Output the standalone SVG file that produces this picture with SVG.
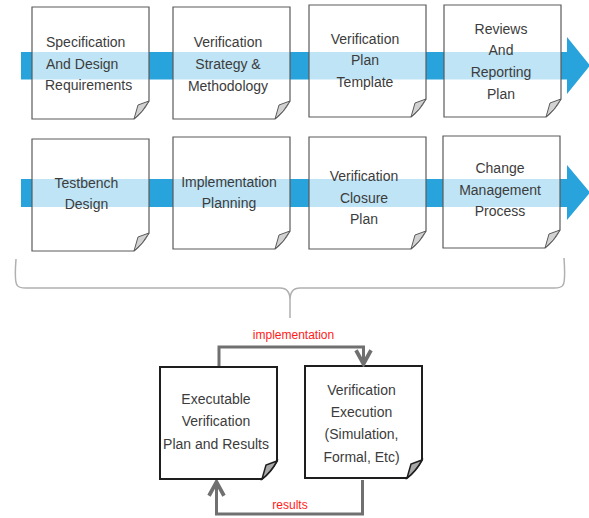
<svg xmlns="http://www.w3.org/2000/svg" xmlns:xlink="http://www.w3.org/1999/xlink" width="589" height="518" viewBox="0 0 589 518">
<style>
.band{fill:#29a3dc}
.card{fill:#ffffff;fill-opacity:0.7;stroke:#5a5a5a;stroke-width:1.2}
.fold{fill:#d2d2d2;stroke:#5a5a5a;stroke-width:1}
.card2{fill:#ffffff;stroke:#1e1e1e;stroke-width:2}
.fold2{fill:#a8a8a8;stroke:#1e1e1e;stroke-width:1.5}
.t{font-family:"Liberation Sans",Arial,sans-serif;font-size:14px;fill:#3c3c3c;text-anchor:middle}
.tl{text-anchor:start}
.red{font-family:"Liberation Sans",Arial,sans-serif;font-size:12px;fill:#ff1a1a;text-anchor:middle}
.conn{fill:none;stroke:#707070;stroke-width:3}
.brace{fill:none;stroke:#b0b0b0;stroke-width:1.5}
</style>
<defs>
<path id="outline" d="M0,0 H117 V94 Q111,105 102,112 H0 Z"/>
<path id="foldp" d="M102,112 Q111,105 117,94 L106,98 Z"/>
<marker id="arr" markerUnits="userSpaceOnUse" markerWidth="20" markerHeight="20" refX="0" refY="0" viewBox="-14 -8 16 16" orient="auto">
<path d="M-11,-6 L0,0 L-11,6" fill="none" stroke="#707070" stroke-width="3"/>
</marker>
</defs>

<g id="arrows">
<path class="band" d="M21,52 H567 V37 L590,65.5 L567,94 V79.5 H21 Z"/>
<path class="band" d="M21,179 H567 V165 L590,192.5 L567,220 V207 H21 Z"/>
</g>

<g id="n1" transform="translate(32,7)">
<use href="#outline" class="card"/><use href="#foldp" class="fold"/>
<text class="t tl" x="14" y="40">Specification</text>
<text class="t tl" x="14" y="61.5">And Design</text>
<text class="t tl" x="13" y="83">Requirements</text>
</g>
<g id="n2" transform="translate(173,7)">
<use href="#outline" class="card"/><use href="#foldp" class="fold"/>
<text class="t" x="55" y="40">Verification</text>
<text class="t" x="55" y="62">Strategy &amp;</text>
<text class="t" x="55" y="84">Methodology</text>
</g>
<g id="n3" transform="translate(309,5)">
<use href="#outline" class="card"/><use href="#foldp" class="fold"/>
<text class="t" x="56" y="38.5">Verification</text>
<text class="t" x="56" y="60">Plan</text>
<text class="t" x="56" y="81.5">Template</text>
</g>
<g id="n4" transform="translate(444,5)">
<use href="#outline" class="card"/><use href="#foldp" class="fold"/>
<text class="t" x="57" y="28.5">Reviews</text>
<text class="t" x="57" y="50">And</text>
<text class="t" x="57" y="72">Reporting</text>
<text class="t" x="57" y="94">Plan</text>
</g>

<g id="n5" transform="translate(32,139)">
<use href="#outline" class="card"/><use href="#foldp" class="fold"/>
<text class="t" x="54.5" y="49">Testbench</text>
<text class="t" x="54.5" y="70">Design</text>
</g>
<g id="n6" transform="translate(173,137)">
<use href="#outline" class="card"/><use href="#foldp" class="fold"/>
<text class="t" x="56" y="50">Implementation</text>
<text class="t" x="56" y="71">Planning</text>
</g>
<g id="n7" transform="translate(309,137)">
<use href="#outline" class="card"/><use href="#foldp" class="fold"/>
<text class="t" x="55" y="43.5">Verification</text>
<text class="t" x="55" y="65.5">Closure</text>
<text class="t" x="55" y="87">Plan</text>
</g>
<g id="n8" transform="translate(443,136)">
<use href="#outline" class="card"/><use href="#foldp" class="fold"/>
<text class="t" x="57" y="37">Change</text>
<text class="t" x="57" y="59">Management</text>
<text class="t" x="57" y="80">Process</text>
</g>

<g id="brace">
<path class="brace" d="M16,259 C15,272 15,282 17,285 C18,287 20,288 26,288 H280 C287,288 290,292 290,300 V318 M290,300 C290,292 293,288 300,288 H554 C560,288 562,287 563,285 C565,282 565,272 564,258"/>
</g>

<g id="n9" transform="translate(160,367)">
<use href="#outline" class="card2"/><use href="#foldp" class="fold2"/>
<text class="t" x="56" y="36.5">Executable</text>
<text class="t" x="56" y="59">Verification</text>
<text class="t" x="56" y="81.5">Plan and Results</text>
</g>
<g id="n10" transform="translate(305,366)">
<use href="#outline" class="card2"/><use href="#foldp" class="fold2"/>
<text class="t" x="56.5" y="29">Verification</text>
<text class="t" x="56.5" y="51">Execution</text>
<text class="t" x="56.5" y="73">(Simulation,</text>
<text class="t" x="56.5" y="95.5">Formal, Etc)</text>
</g>

<g id="connectors">
<path class="conn" d="M219,366 V347 H363.5 V364" marker-end="url(#arr)"/>
<path class="conn" d="M362.5,480 V514 H216.5 V482" marker-end="url(#arr)"/>
<text class="red" x="293.5" y="339">implementation</text>
<text class="red" x="290" y="509">results</text>
</g>
</svg>
